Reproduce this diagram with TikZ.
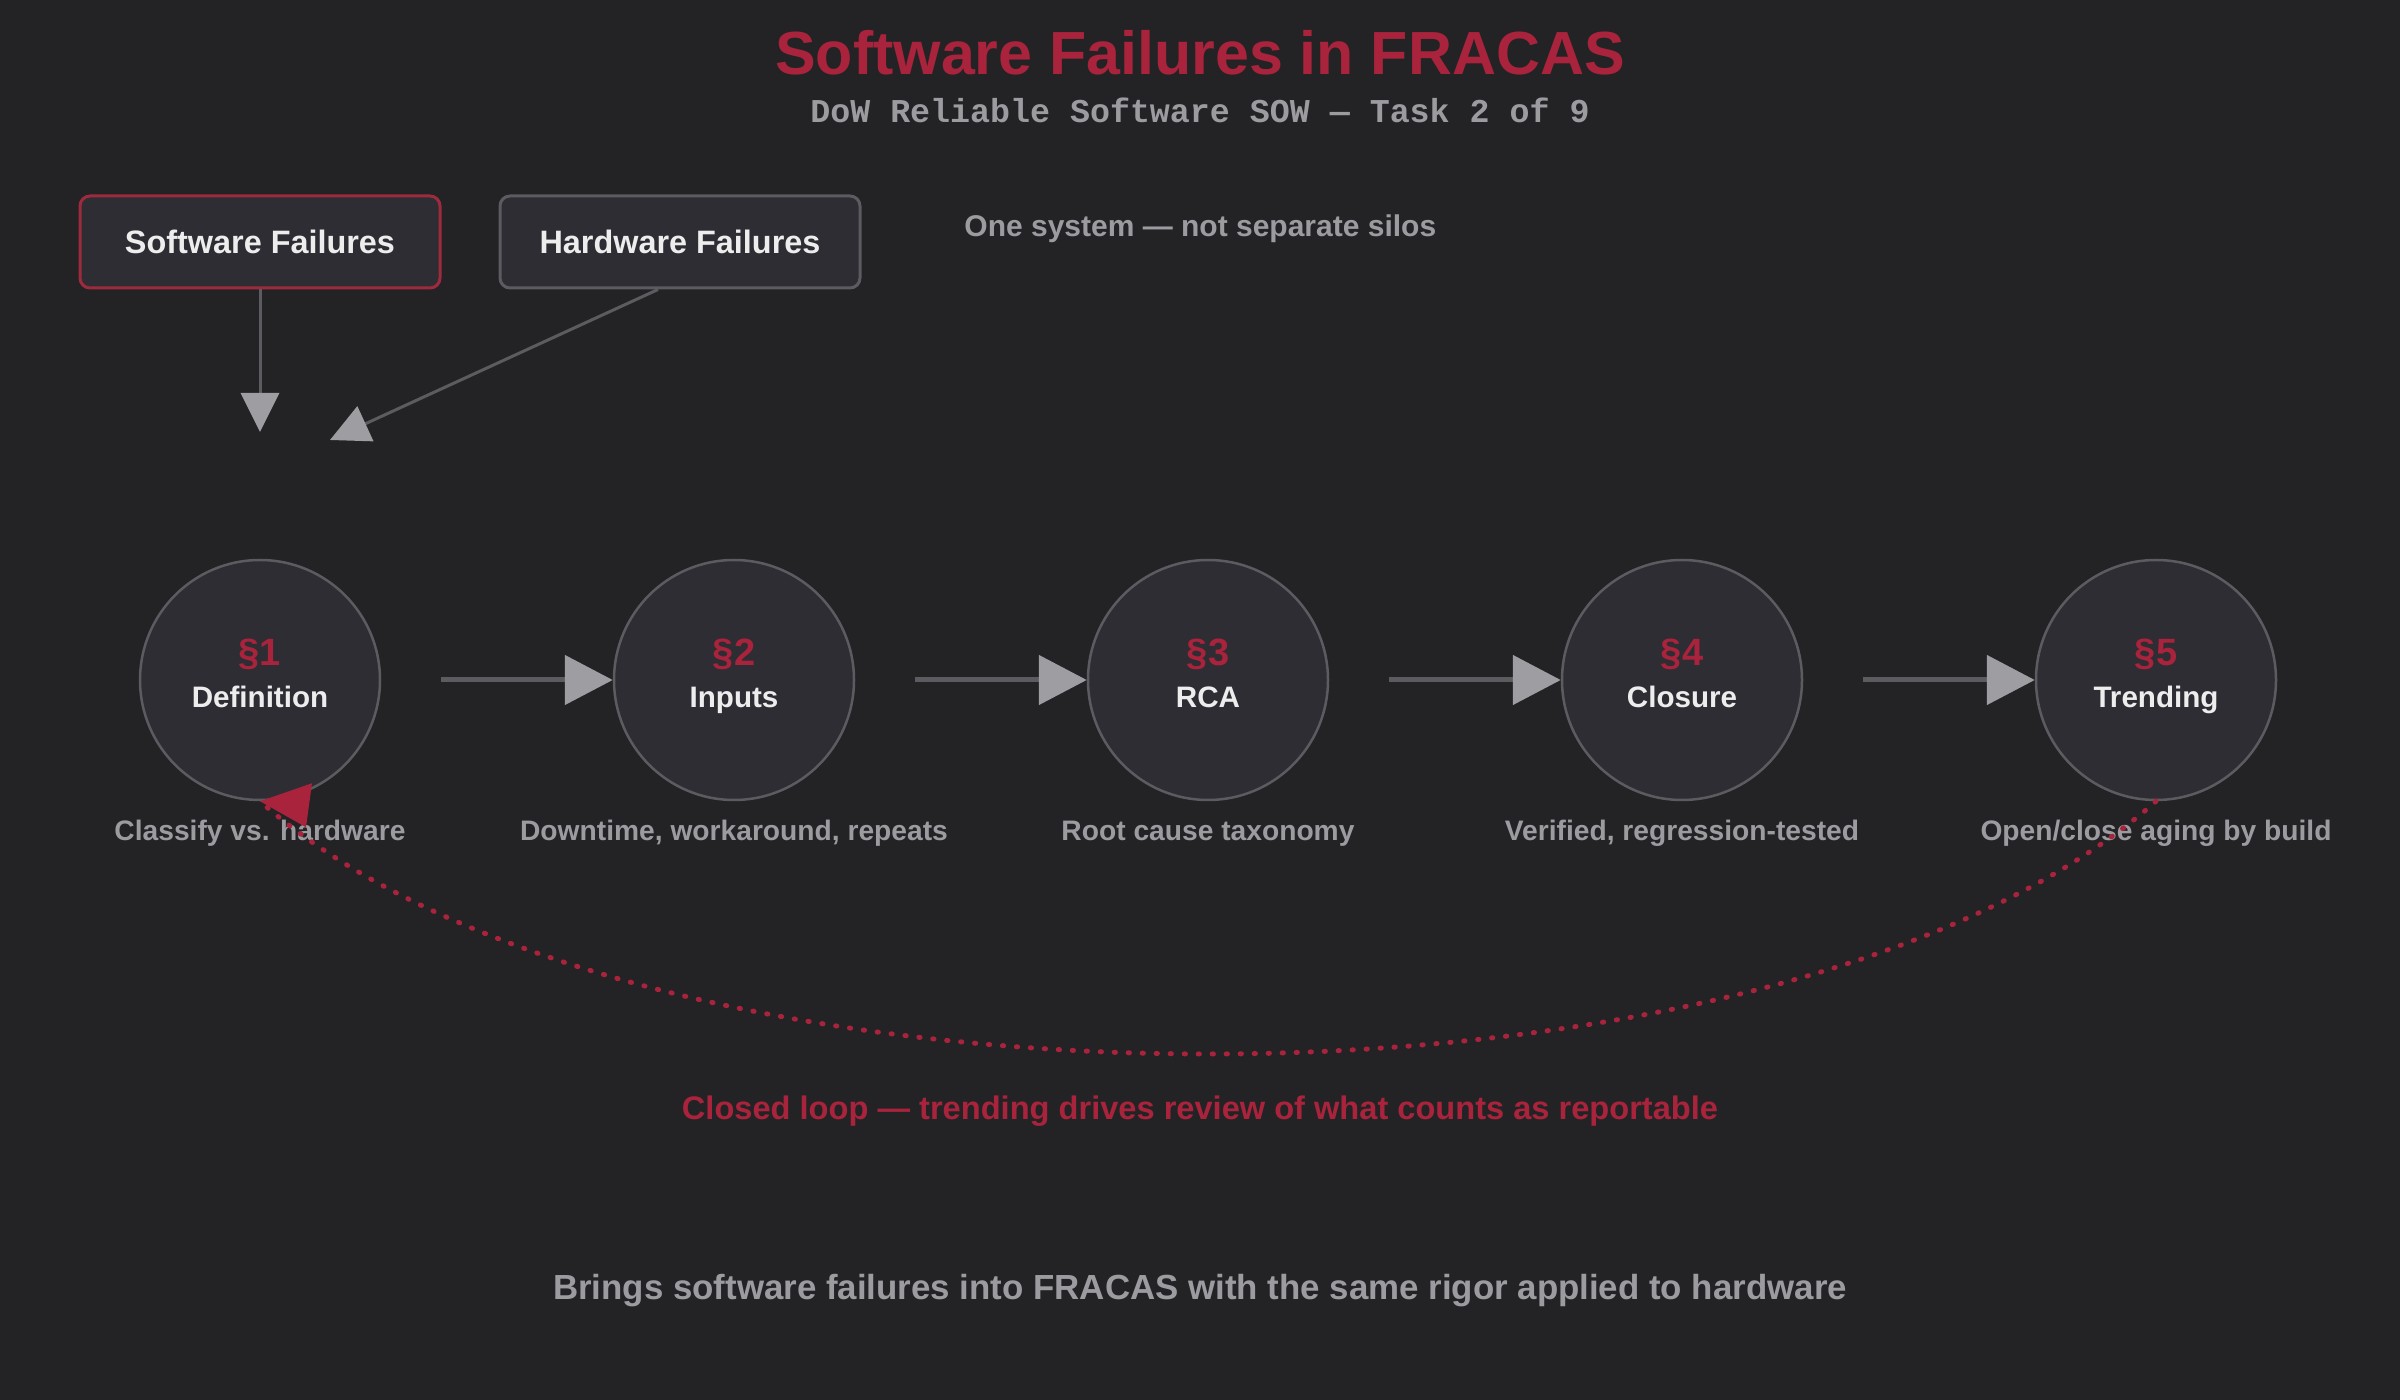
\documentclass[tikz,border=0pt]{standalone}
\usepackage{fontspec}
\setmainfont{Liberation Sans}
\setmonofont{Liberation Mono}
\usetikzlibrary{arrows.meta,positioning,calc}

\definecolor{bgdark}{HTML}{232326}
\definecolor{panel}{HTML}{2E2D33}
\definecolor{edgegrey}{HTML}{5B5B60}
\definecolor{headgrey}{HTML}{9D9DA2}
\definecolor{textgrey}{HTML}{9B9BA0}
\definecolor{textwhite}{HTML}{EDEDED}
\definecolor{redc}{HTML}{A8233B}
\definecolor{swred}{HTML}{9E2A3D}

\tikzset{
  box/.style={draw, rounded corners=5pt, line width=1.5pt, fill=panel,
    minimum width=180pt, minimum height=46pt, inner sep=0pt,
    text=textwhite, font=\bfseries\fontsize{16.2}{19}\selectfont},
  stage/.style={circle, draw=edgegrey, line width=1.25pt, fill=panel,
    minimum size=120pt, inner sep=0pt},
  secnum/.style={anchor=base, inner sep=0pt, text=redc,
    font=\bfseries\fontsize{19}{22}\selectfont},
  stagename/.style={anchor=base, inner sep=0pt, text=textwhite,
    font=\bfseries\fontsize{14.8}{17}\selectfont},
  note/.style={anchor=base, inner sep=0pt, text=textgrey,
    font=\bfseries\fontsize{14.1}{17}\selectfont},
  flow/.style={draw=edgegrey, line width=2.5pt,
    -{Triangle[length=24pt,width=24.5pt,color=headgrey]}},
  feed/.style={draw=edgegrey, line width=1.5pt,
    -{Triangle[length=19.5pt,width=19pt,color=headgrey]}},
  loopback/.style={draw=redc, line width=2.5pt, line cap=round,
    dash pattern=on 0.6pt off 6.4pt},
}

\begin{document}
\begin{tikzpicture}[x=0.5pt, y=-0.5pt, node distance=237pt]
  \fill[bgdark] (0,0) rectangle (2400,1400);
  \useasboundingbox (0,0) rectangle (2400,1400);

  % heading
  \node [anchor=base, inner sep=0pt, text=redc, font=\bfseries\fontsize{30.45}{36}\selectfont]
    (title) at (1200,75) {Software Failures in FRACAS};
  \node [anchor=base, inner sep=0pt, text=textgrey, font=\ttfamily\bfseries\fontsize{16.65}{20}\selectfont]
    (subtitle) at (1200,123) {DoW Reliable Software SOW — Task 2 of 9};

  % inputs
  \node [box, draw=swred] (sw) at (260,242) {Software Failures};
  \node [box, draw=edgegrey, right of=sw, node distance=210pt] (hw) {Hardware Failures};
  \node [note, anchor=base west, font=\bfseries\fontsize{15}{18}\selectfont]
    (onesys) at (964,237) {One system — not separate silos};
  \coordinate (swend) at (260,432);
  \coordinate (hwend) at (330,440);
  \draw [feed] (sw.south) -- (swend);
  \draw [feed] ($(hw.south)+(-22,0)$) -- (hwend);

  % stages
  \node [stage] (c1) at (260,680) {};
  \node [stage, right of=c1] (c2) {};
  \node [stage, right of=c2] (c3) {};
  \node [stage, right of=c3] (c4) {};
  \node [stage, right of=c4] (c5) {};

  \node [secnum] (s1) at ($(c1)+(0,-14)$) {§1};
  \node [secnum] (s2) at ($(c2)+(0,-14)$) {§2};
  \node [secnum] (s3) at ($(c3)+(0,-14)$) {§3};
  \node [secnum] (s4) at ($(c4)+(0,-14)$) {§4};
  \node [secnum] (s5) at ($(c5)+(0,-14)$) {§5};

  \node [stagename] (n1) at ($(c1)+(0,28)$) {Definition};
  \node [stagename] (n2) at ($(c2)+(0,28)$) {Inputs};
  \node [stagename] (n3) at ($(c3)+(0,28)$) {RCA};
  \node [stagename] (n4) at ($(c4)+(0,28)$) {Closure};
  \node [stagename] (n5) at ($(c5)+(0,28)$) {Trending};

  \node [note] (d1) at ($(c1)+(0,161)$) {Classify vs. hardware};
  \node [note] (d2) at ($(c2)+(0,161)$) {Downtime, workaround, repeats};
  \node [note] (d3) at ($(c3)+(0,161)$) {Root cause taxonomy};
  \node [note] (d4) at ($(c4)+(0,161)$) {Verified, regression-tested};
  \node [note] (d5) at ($(c5)+(0,161)$) {Open/close aging by build};

  \draw [flow, shorten <=30pt] (c1.east) -- (c2.west);
  \draw [flow, shorten <=30pt] (c2.east) -- (c3.west);
  \draw [flow, shorten <=30pt] (c3.east) -- (c4.west);
  \draw [flow, shorten <=30pt] (c4.east) -- (c5.west);

  % closed loop
  \draw [loopback] (c5.south) .. controls +(-380,337) and +(380,337) .. (c1.south);
  \fill [redc] (c1.south) -- ++(52,-18) -- ++(-6,44) -- cycle;
  \node [anchor=base, inner sep=0pt, text=redc, font=\bfseries\fontsize{16.3}{19}\selectfont]
    (looptext) at (1200,1119) {Closed loop — trending drives review of what counts as reportable};

  \node [anchor=base, inner sep=0pt, text=textgrey, font=\bfseries\fontsize{17.43}{21}\selectfont]
    (summary) at (1200,1299) {Brings software failures into FRACAS with the same rigor applied to hardware};
\end{tikzpicture}
\end{document}
